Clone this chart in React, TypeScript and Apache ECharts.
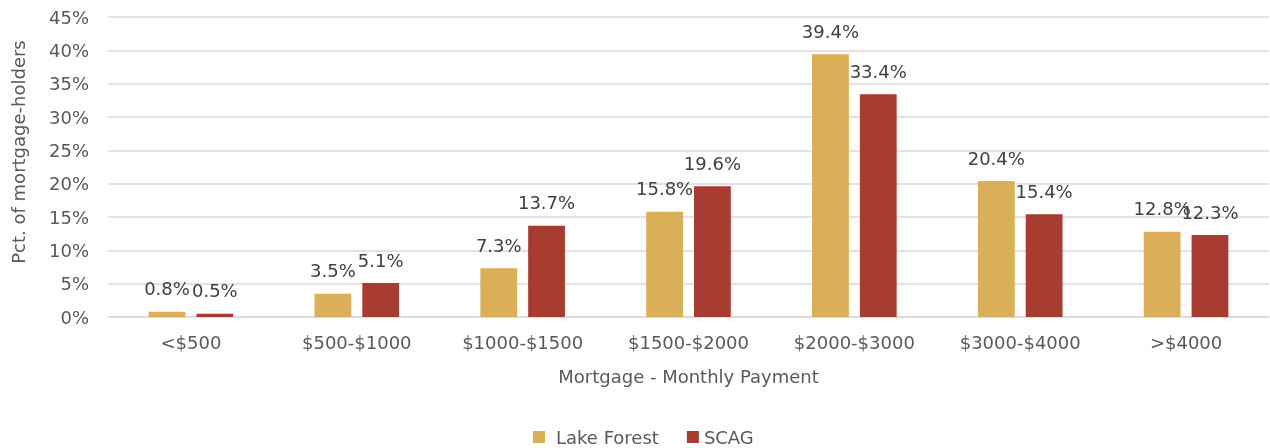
import React, { useEffect, useRef } from "react";
import * as echarts from "echarts";

const categories = ["<$500", "$500-$1000", "$1000-$1500", "$1500-$2000", "$2000-$3000", "$3000-$4000", ">$4000"];
const lakeForest = [0.8, 3.5, 7.3, 15.8, 39.4, 20.4, 12.8];
const scag = [0.5, 5.1, 13.7, 19.6, 33.4, 15.4, 12.3];
const seriesNames = ["Lake Forest", "SCAG"];
const colors = ["#DBAE58", "#A93C31"];

const FONT = "DejaVu Sans";

export default function App() {
  const ref = useRef<HTMLDivElement>(null);
  useEffect(() => {
    const chart = echarts.init(ref.current!, null, { renderer: "svg" });
    const label = {
      show: true,
      position: "top" as const,
      distance: 14,
      color: "#404040",
      fontSize: 18,
      fontFamily: FONT,
      formatter: (p: any) => p.value.toFixed(1) + "%",
    };
    chart.setOption({
      animation: false,
      textStyle: { fontFamily: FONT },
      grid: { left: 108, right: 1, top: 17, bottom: 131, containLabel: false },
      legend: {
        top: 423,
        left: 528,
        itemWidth: 12,
        itemHeight: 12,
        itemGap: 28,
        icon: "rect",
        textStyle: { color: "#595959", fontSize: 18, fontFamily: FONT },
        data: [
          { name: seriesNames[0], textStyle: { padding: [0, 0, 0, 6] } },
          { name: seriesNames[1] },
        ],
      },
      xAxis: {
        type: "category",
        data: categories,
        axisLine: { lineStyle: { color: "#d9d9d9", width: 1.5 } },
        axisTick: { show: false },
        axisLabel: { color: "#595959", fontSize: 18, fontFamily: FONT, margin: 16 },
        name: "Mortgage - Monthly Payment",
        nameLocation: "middle",
        nameGap: 50,
        nameTextStyle: { color: "#595959", fontSize: 18, fontFamily: FONT },
      },
      yAxis: {
        type: "value",
        min: 0,
        max: 45,
        interval: 5,
        axisLabel: { color: "#595959", fontSize: 18, fontFamily: FONT, formatter: "{value}%", margin: 19 },
        splitLine: { lineStyle: { color: "#d9d9d9", width: 1.5 } },
        axisLine: { show: false },
        axisTick: { show: false },
      },
      graphic: [
        {
          type: "text",
          x: 18,
          y: 152,
          rotation: Math.PI / 2,
          style: {
            text: "Pct. of mortgage-holders",
            fill: "#595959",
            fontSize: 18,
            fontFamily: FONT,
            align: "center",
            verticalAlign: "middle",
          },
        },
      ],
      series: [
        {
          name: seriesNames[0],
          type: "bar",
          data: lakeForest,
          itemStyle: { color: colors[0] },
          barGap: "30%",
          barCategoryGap: "49%",
          label,
        },
        {
          name: seriesNames[1],
          type: "bar",
          data: scag,
          itemStyle: { color: colors[1] },
          barGap: "30%",
          barCategoryGap: "49%",
          label,
        },
      ],
    });
    return () => chart.dispose();
  }, []);
  return <div ref={ref} style={{ position: "fixed", left: 0, top: 0, width: 1270, height: 448 }} />;
}
